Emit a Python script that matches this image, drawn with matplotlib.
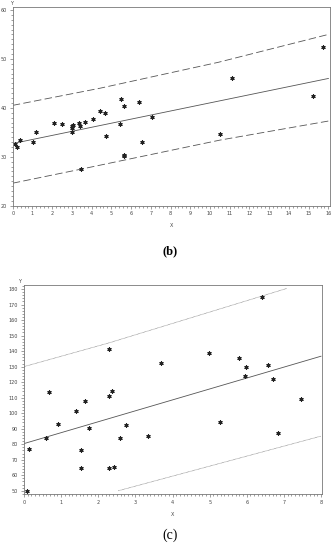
import matplotlib.pyplot as plt
from matplotlib.ticker import MultipleLocator

# panel (b) data
b_x = [15.71, 11.1, 15.2, 5.5, 5.64, 6.38, 4.41, 4.66, 7.04, 4.05, 3.68, 3.34, 3.07,
       2.48, 2.09, 5.42, 3.03, 3.03, 3.03, 3.4, 1.16, 0.37, 0.13, 0.22, 1.03, 4.73,
       6.57, 10.5, 5.64, 5.64, 3.46]
b_y = [52.4, 46.0, 42.35, 41.8, 40.4, 41.1, 39.3, 38.9, 38.1, 37.7, 37.1, 37.0, 36.5,
       36.7, 36.8, 36.7, 36.3, 35.9, 35.1, 36.3, 35.1, 33.35, 32.6, 31.9, 33.0, 34.2,
       33.1, 34.6, 30.4, 30.1, 27.5]
b_fit_x = [0, 16]
b_fit_y = [32.7, 46.0]
b_up_x = [0, 4.42, 10.42, 16]
b_up_y = [40.5, 44.0, 49.3, 55.0]
b_lo_x = [0, 3.5, 10.5, 16]
b_lo_y = [24.6, 27.5, 33.4, 37.3]

# panel (c) data
c_x = [6.42, 2.29, 4.98, 5.80, 3.70, 6.58, 5.99, 5.94, 6.71, 0.67, 2.37, 2.28, 1.63,
       7.45, 1.40, 0.92, 2.75, 1.74, 5.28, 3.33, 2.58, 0.60, 6.85, 0.13, 1.53, 1.54,
       2.29, 2.42, 0.08]
c_y = [174.8, 141.4, 138.8, 135.8, 132.6, 130.9, 129.6, 123.8, 122.0, 113.9, 114.1,
       111.0, 107.6, 109.3, 101.6, 92.7, 92.1, 90.6, 94.0, 85.4, 84.3, 84.3, 87.4, 77.0,
       76.0, 64.7, 64.9, 65.4, 49.9]
c_fit_x = [0, 8]
c_fit_y = [80.4, 136.7]
c_up_x = [0, 2.29, 7.08]
c_up_y = [130.0, 145.3, 180.4]
c_lo_x = [2.54, 8]
c_lo_y = [50.0, 85.2]

gray = '#555555'
fs = 3.5
star = (6, 2, 0)  # asterisk

fig = plt.figure(figsize=(3.34, 5.5), dpi=100)


def style(ax):
    for s in ax.spines.values():
        s.set_color('#777777')
        s.set_linewidth(0.6)
    ax.tick_params(which='both', direction='out', colors='#777777', labelcolor='#444444',
                   labelsize=fs, width=0.5, pad=1.5)
    ax.tick_params(which='major', length=2.5)
    ax.tick_params(which='minor', length=1.5)
    ax.set_xlabel('X', fontsize=fs, color='#444444', labelpad=5)


# (b)
ax1 = fig.add_axes([12.7 / 334, 1 - 205.7 / 550, (330 - 12.7) / 334, (205.7 - 7) / 550])
ax1.plot(b_fit_x, b_fit_y, color=gray, lw=0.6)
ax1.plot(b_up_x, b_up_y, color=gray, lw=0.6, ls=(0, (9, 4)))
ax1.plot(b_lo_x, b_lo_y, color=gray, lw=0.6, ls=(0, (9, 4)))
ax1.plot(b_x, b_y, ls='none', marker=star, ms=3, mew=0.8, color='#222222')
ax1.set_xlim(0, 16.08)
ax1.set_ylim(20, 60.6)
ax1.set_xticks(range(0, 17))
ax1.set_yticks([20, 30, 40, 50, 60])
ax1.xaxis.set_minor_locator(MultipleLocator(0.2))
ax1.yaxis.set_minor_locator(MultipleLocator(1))
style(ax1)
ax1.text(-0.003, 1.005, 'Y', transform=ax1.transAxes, fontsize=fs, color='#444444',
         ha='center', va='bottom')
fig.text(170.5 / 334, 1 - 251 / 550, '(b)', fontsize=9, fontweight='bold',
         family='Liberation Serif', ha='center', va='center')

# (c)
ax2 = fig.add_axes([23.7 / 334, 1 - 494 / 550, (322.3 - 23.7) / 334, (494 - 285.3) / 550])
ax2.plot(c_fit_x, c_fit_y, color=gray, lw=0.6)
ax2.plot(c_up_x, c_up_y, color='#777777', lw=0.5, ls=(0, (1, 0.8)))
ax2.plot(c_lo_x, c_lo_y, color='#777777', lw=0.5, ls=(0, (1, 0.8)))
ax2.plot(c_x, c_y, ls='none', marker=star, ms=3, mew=0.8, color='#222222')
ax2.set_xlim(-0.01, 8.035)
ax2.set_ylim(47.9, 182.4)
ax2.set_xticks(range(0, 9))
ax2.set_yticks(range(50, 181, 10))
ax2.xaxis.set_minor_locator(MultipleLocator(0.1))
ax2.yaxis.set_minor_locator(MultipleLocator(2))
style(ax2)
ax2.text(-0.015, 1.005, 'Y', transform=ax2.transAxes, fontsize=fs, color='#444444',
         ha='center', va='bottom')
fig.text(170 / 334, 1 - 535 / 550, '(c)', fontsize=10, family='Liberation Serif',
         ha='center', va='center')

fig.savefig('out.png', dpi=100)
